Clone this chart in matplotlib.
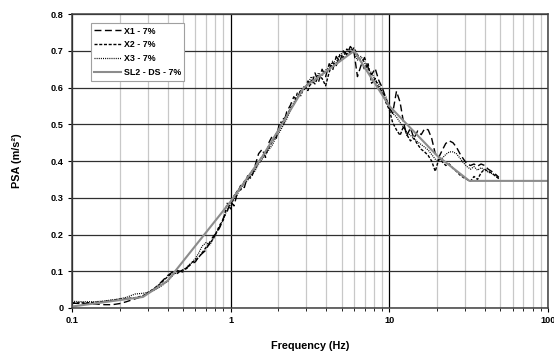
import numpy as np
import matplotlib.pyplot as plt
from matplotlib.ticker import FixedLocator, NullFormatter

plt.rcParams['font.family'] = ['Liberation Sans', 'DejaVu Sans']
plt.rcParams['font.weight'] = 'bold'

# design spectrum SL2 - DS - 7%
design_f = [0.1, 0.28, 0.4, 1.0, 1.6, 2.9, 6.0, 10.0, 20.0, 32.0, 100.0]
design_psa = [0.004, 0.030, 0.074, 0.290, 0.415, 0.600, 0.700, 0.550, 0.415, 0.346, 0.346]

# record spectra
freq = [0.10, 0.12, 0.14, 0.16, 0.18, 0.20, 0.22, 0.25, 0.28, 0.30, 0.33, 0.36, 0.40,
        0.43, 0.46, 0.50, 0.53, 0.56, 0.60, 0.63, 0.66, 0.70, 0.74, 0.78, 0.82, 0.86,
        0.90, 0.95, 1.00, 1.05, 1.10, 1.16, 1.22, 1.28, 1.35, 1.42, 1.50, 1.58, 1.66,
        1.75, 1.84, 1.94, 2.04, 2.15, 2.26, 2.38, 2.50, 2.63, 2.77, 2.92, 3.07, 3.23,
        3.40, 3.58, 3.77, 3.97, 4.18, 4.40, 4.63, 4.87, 5.13, 5.40, 5.68, 5.98, 6.30,
        6.63, 6.98, 7.35, 7.74, 8.15, 8.58, 9.03, 9.51, 10.0, 10.5, 11.1, 11.7, 12.3,
        12.9, 13.6, 14.3, 15.1, 15.9, 16.7, 17.6, 18.5, 19.5, 20.5, 21.6, 22.7, 23.9,
        25.2, 26.5, 27.9, 29.4, 30.9, 32.5, 34.2, 36.0, 37.9, 39.9, 42.0, 44.2, 46.5, 49.0]

x1 = [0.013, 0.012, 0.011, 0.009, 0.009, 0.012, 0.017, 0.025, 0.032, 0.040, 0.052, 0.068, 0.088,
      0.098, 0.102, 0.098, 0.110, 0.118, 0.126, 0.140, 0.148, 0.158, 0.180, 0.196, 0.205, 0.222,
      0.245, 0.262, 0.290, 0.278, 0.312, 0.335, 0.328, 0.360, 0.352, 0.385, 0.420, 0.432, 0.410,
      0.452, 0.470, 0.462, 0.508, 0.500, 0.535, 0.552, 0.575, 0.565, 0.598, 0.595, 0.618, 0.605,
      0.640, 0.615, 0.650, 0.630, 0.665, 0.648, 0.685, 0.670, 0.700, 0.690, 0.712, 0.700, 0.630,
      0.660, 0.682, 0.655, 0.635, 0.652, 0.620, 0.600, 0.572, 0.545, 0.530, 0.590, 0.560, 0.505,
      0.470, 0.490, 0.462, 0.482, 0.472, 0.488, 0.485, 0.462, 0.420, 0.410, 0.430, 0.448, 0.455,
      0.450, 0.438, 0.420, 0.405, 0.392, 0.388, 0.392, 0.386, 0.392, 0.388, 0.378, 0.372, 0.365, 0.356]

x2 = [0.014, 0.014, 0.015, 0.018, 0.021, 0.024, 0.026, 0.028, 0.033, 0.042, 0.053, 0.066, 0.085,
      0.096, 0.094, 0.104, 0.108, 0.122, 0.130, 0.138, 0.150, 0.165, 0.176, 0.190, 0.210, 0.228,
      0.240, 0.285, 0.270, 0.305, 0.318, 0.322, 0.345, 0.350, 0.372, 0.378, 0.398, 0.412, 0.425,
      0.438, 0.455, 0.475, 0.488, 0.515, 0.520, 0.545, 0.552, 0.585, 0.578, 0.606, 0.592, 0.620,
      0.610, 0.632, 0.625, 0.605, 0.642, 0.668, 0.660, 0.688, 0.682, 0.705, 0.695, 0.708, 0.690,
      0.672, 0.650, 0.665, 0.612, 0.625, 0.598, 0.590, 0.560, 0.540, 0.505, 0.485, 0.470, 0.495,
      0.472, 0.455, 0.462, 0.445, 0.432, 0.425, 0.415, 0.400, 0.372, 0.405, 0.398, 0.388, 0.392,
      0.380, 0.372, 0.362, 0.355, 0.350, 0.345, 0.358, 0.350, 0.368, 0.378, 0.372, 0.368, 0.360, 0.352]

x3 = [0.018, 0.017, 0.017, 0.019, 0.022, 0.025, 0.029, 0.038, 0.040, 0.042, 0.048, 0.058, 0.072,
      0.088, 0.098, 0.102, 0.112, 0.120, 0.135, 0.150, 0.168, 0.178, 0.172, 0.190, 0.208, 0.225,
      0.242, 0.268, 0.282, 0.298, 0.308, 0.330, 0.338, 0.348, 0.362, 0.372, 0.392, 0.405, 0.418,
      0.432, 0.445, 0.468, 0.480, 0.498, 0.515, 0.538, 0.560, 0.572, 0.592, 0.598, 0.612, 0.630,
      0.618, 0.640, 0.632, 0.648, 0.655, 0.672, 0.668, 0.690, 0.695, 0.688, 0.705, 0.698, 0.675,
      0.685, 0.668, 0.650, 0.640, 0.620, 0.610, 0.585, 0.575, 0.548, 0.530, 0.520, 0.505, 0.492,
      0.478, 0.470, 0.462, 0.452, 0.445, 0.438, 0.430, 0.418, 0.405, 0.400, 0.408, 0.418, 0.425,
      0.425, 0.420, 0.408, 0.395, 0.385, 0.378, 0.385, 0.375, 0.382, 0.376, 0.370, 0.366, 0.360, 0.354]

fig = plt.figure(figsize=(5.54, 3.54), dpi=100)
ax = fig.add_axes([0.130, 0.130, 0.859, 0.830])

ax.plot(freq, x1, color='black', lw=1.0, dashes=(5, 2.5), label='X1 - 7%')
ax.plot(freq, x2, color='black', lw=1.0, dashes=(2.2, 1.2), label='X2 - 7%')
ax.plot(freq, x3, color='black', lw=0.9, dashes=(0.8, 0.9), label='X3 - 7%')
ax.plot(design_f, design_psa, color='#8c8c8c', lw=1.5, label='SL2 - DS - 7%')

ax.set_xscale('log')
ax.set_xlim(0.1, 100)
ax.set_ylim(0, 0.8)
ax.set_yticks(np.arange(0, 0.81, 0.1))
ax.set_yticklabels(['0', '0.1', '0.2', '0.3', '0.4', '0.5', '0.6', '0.7', '0.8'])
ax.set_xticks([0.1, 1, 10, 100])
ax.set_xticklabels(['0.1', '1', '10', '100'])
minor = [m * d for d in [0.1, 1, 10] for m in range(2, 10)]
ax.xaxis.set_minor_locator(FixedLocator(minor))
ax.xaxis.set_minor_formatter(NullFormatter())

ax.grid(True, which='major', axis='x', color='black', lw=0.9)
ax.grid(True, which='minor', axis='x', color='#c8c8c8', lw=0.9)
ax.grid(True, which='major', axis='y', color='#303030', lw=0.9)
ax.set_axisbelow(True)

for s in ax.spines.values():
    s.set_color('#404040')
    s.set_linewidth(1.1)

ax.tick_params(axis='both', which='major', labelsize=6.6, length=3, width=0.8, pad=3)
ax.tick_params(axis='x', which='minor', length=2, width=0.6)

ax.set_xlabel('Frequency (Hz)', fontsize=7.8, fontweight='bold', labelpad=11)
ax.set_ylabel('PSA (m/s²)', fontsize=7.8, fontweight='bold', labelpad=21)

leg = ax.legend(loc='upper left', bbox_to_anchor=(0.03, 0.985), fontsize=6.4,
                handlelength=3.0, handletextpad=0.3, labelspacing=0.55,
                borderpad=0.4, fancybox=False, framealpha=1, edgecolor='#a0a0a0')
leg.get_frame().set_linewidth(0.8)
for t in leg.get_texts():
    t.set_fontweight('bold')

fig.savefig('out.png', dpi=100)
